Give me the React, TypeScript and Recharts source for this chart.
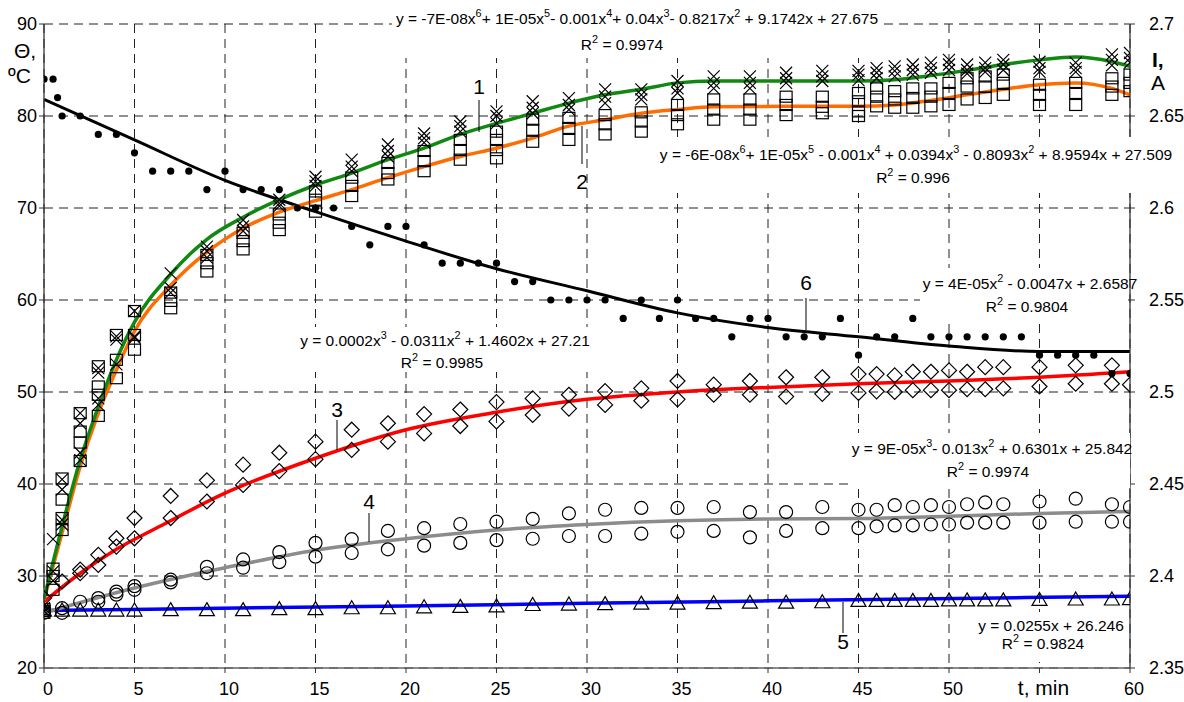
import React from 'react'
import { CartesianGrid, ComposedChart, Line, Scatter, XAxis, YAxis } from 'recharts'

const FONT = '"Liberation Sans", Arial, sans-serif'

// measurement times (min) shared by the marker series
const tObs = [0, 1, 2, 3, 4, 5, 7, 9, 11, 13, 15, 17, 19, 21, 23, 25, 27, 29, 31, 33, 35, 37, 39, 41, 43, 45, 46, 47, 48, 49, 50, 51, 52, 53, 55, 57, 59, 60]

// series 1 (crosses), three readings per time
const crossA = [26.2, 40.5, 47.7, 52.6, 56.05, 58.8, 62.9, 65.8, 68.7, 70.9, 73.4, 75.25, 76.9, 78.1, 79.4, 80.5, 81.6, 81.95, 82.9, 82.9, 83.8, 84.3, 84.3, 84.7, 84.9, 84.9, 85.2, 85.4, 85.6, 85.8, 86.1, 85.6, 85.8, 86.1, 85.9, 85.8, 86.7, 86.85]
const crossB = [26.2, 39.4, 46.6, 52.1, 55.7, 56.05, 61.3, 65.3, 68.0, 70.5, 72.9, 74.5, 76.2, 77.6, 78.9, 80.0, 80.9, 81.2, 82.1, 82.3, 83.0, 83.6, 83.6, 84.1, 84.3, 84.5, 84.7, 84.9, 85.0, 85.2, 85.6, 85.0, 85.2, 85.6, 85.2, 85.2, 86.1, 86.3]
const crossC = [26.5, 36.1, 43.4, 49.3, 53.0, 55.9, 60.8, 64.6, 67.5, 70.2, 72.4, 74.0, 75.6, 77.1, 78.3, 79.2, 80.3, 80.7, 81.4, 81.8, 82.5, 83.0, 83.0, 83.6, 83.8, 83.9, 84.1, 84.3, 84.5, 84.7, 85.0, 84.6, 84.8, 85.0, 84.8, 84.8, 85.5, 85.8]
const crossExtraT = [0.5, 0.5, 0.5, 1, 2, 3]
const crossExtraV = [34.0, 30.5, 29.5, 35.6, 42.6, 48.6]

// series 2 (squares)
const sqA = [26.0, 40.6, 47.7, 52.8, 56.2, 58.8, 60.8, 64.9, 67.3, 69.3, 71.8, 73.3, 74.9, 76.2, 77.4, 78.3, 79.6, 79.8, 80.1, 80.4, 81.2, 81.8, 81.8, 82.1, 82.1, 82.5, 83.0, 82.7, 83.0, 83.0, 83.6, 84.1, 84.3, 84.5, 83.4, 83.6, 84.1, 84.5]
const sqB = [26.2, 38.3, 45.7, 50.6, 53.5, 56.2, 59.9, 64.0, 66.4, 68.4, 70.9, 72.4, 73.8, 75.1, 76.3, 77.4, 78.5, 78.7, 79.1, 79.4, 80.1, 80.7, 80.7, 81.2, 81.0, 81.6, 82.1, 81.8, 81.96, 82.1, 82.5, 83.2, 83.2, 83.6, 82.3, 82.5, 83.2, 83.6]
const sqC = [26.4, 36.3, 44.5, 49.7, 51.5, 54.6, 59.1, 63.1, 65.5, 67.6, 69.6, 71.3, 73.1, 74.0, 75.25, 76.3, 77.2, 77.4, 78.0, 78.3, 79.1, 79.6, 79.6, 80.1, 80.3, 80.5, 81.05, 80.9, 80.9, 81.05, 81.2, 81.8, 81.96, 82.3, 81.2, 81.2, 82.3, 82.7]
const sqExtraT = [0.5, 0.5, 0.5, 1, 2, 3, 25, 45]
const sqExtraV = [30.8, 30.0, 28.5, 35.0, 42.5, 47.4, 75.4, 80.0]

// series 3 (diamonds)
const diaHi = [27.6, 29.4, 30.7, 32.3, 34.1, 36.3, 38.7, 40.4, 42.1, 43.4, 44.6, 45.9, 46.6, 47.6, 48.1, 48.9, 49.3, 49.7, 50.1, 50.4, 51.2, 50.8, 51.2, 51.6, 51.6, 51.95, 51.95, 51.8, 52.2, 52.2, 52.35, 52.2, 52.7, 52.7, 52.7, 52.9, 52.9, null]
const diaLo = [null, null, 30.3, 31.2, 33.2, 34.1, 36.3, 38.1, 39.9, 41.4, 42.7, 43.7, 44.6, 45.5, 46.3, 46.8, 47.5, 48.2, 48.6, 49.05, 49.2, 49.7, 49.7, 49.5, 49.8, 49.9, 50.07, 50.0, 50.2, 50.2, 50.2, 50.3, 50.3, 50.4, 50.6, 50.9, 50.9, 50.8]

// series 4 (circles)
const circHi = [26.0, 26.5, 27.2, 27.6, 28.3, 28.9, 29.6, 31.0, 31.8, 32.6, 33.6, 34.0, 34.9, 35.2, 35.65, 35.9, 36.2, 36.8, 37.2, 37.4, 37.4, 37.5, 36.95, 36.95, 37.5, 37.2, 37.2, 37.7, 37.5, 37.7, 37.5, 37.8, 38.0, 37.8, 38.1, 38.4, 37.8, 37.5]
const circLo = [null, 26.0, null, 27.2, 27.97, 28.5, 29.3, 30.3, 30.9, 31.5, 32.1, 32.5, 32.9, 33.3, 33.6, 33.9, 34.05, 34.35, 34.35, 34.6, 34.8, 34.9, 34.2, 34.9, 35.2, 35.2, 35.4, 35.5, 35.5, 35.6, 35.6, 35.8, 35.8, 35.8, 35.8, 35.9, 35.9, 35.9]

// series 5 (triangles)
const tri = [26.3, 26.3, 26.3, 26.3, 26.3, 26.3, 26.35, 26.35, 26.35, 26.45, 26.45, 26.55, 26.55, 26.65, 26.7, 26.75, 26.9, 26.95, 27.0, 27.05, 27.05, 27.1, 27.15, 27.15, 27.2, 27.35, 27.35, 27.35, 27.35, 27.35, 27.4, 27.4, 27.4, 27.4, 27.45, 27.5, 27.5, 27.55]

// series 6: current I, A (right axis), read every minute
const dotT = [0, 0.5, 0.75, 1, 2, 3, 4, 5, 6, 7, 8, 9, 10, 11, 12, 13, 14, 15, 16, 17, 18, 19, 20, 21, 22, 23, 24, 25, 26, 27, 28, 29, 30, 31, 32, 33, 34, 35, 36, 37, 38, 39, 40, 41, 42, 43, 44, 45, 46, 47, 48, 49, 50, 51, 52, 53, 54, 55, 56, 57, 58, 59, 60]
const dotI = [2.67, 2.67, 2.66, 2.65, 2.65, 2.64, 2.64, 2.63, 2.62, 2.62, 2.62, 2.61, 2.62, 2.61, 2.61, 2.61, 2.6, 2.6, 2.6, 2.59, 2.58, 2.59, 2.59, 2.58, 2.57, 2.57, 2.57, 2.57, 2.56, 2.56, 2.55, 2.55, 2.55, 2.55, 2.54, 2.55, 2.54, 2.55, 2.54, 2.54, 2.53, 2.54, 2.54, 2.53, 2.53, 2.53, 2.54, 2.52, 2.53, 2.53, 2.54, 2.53, 2.53, 2.53, 2.53, 2.53, 2.53, 2.52, 2.52, 2.52, 2.52, 2.51, 2.51]

// trend lines
const fitT12 = [0, 1, 2, 3, 4, 5, 7, 9, 11, 13, 15, 17, 19, 21, 23, 25, 27, 29, 31, 33, 35, 37, 41, 45, 47, 49, 51, 53, 55, 57, 59, 60]
const fit1 = [27.5, 35.4, 42.6, 48.4, 53.5, 57.6, 62.8, 66.6, 69.0, 70.9, 72.5, 73.8, 75.25, 76.5, 78.0, 79.2, 80.3, 81.4, 82.3, 82.9, 83.6, 83.8, 83.8, 83.8, 83.95, 84.4, 84.96, 85.6, 86.1, 86.4, 85.9, 85.4]
const fit2 = [27.4, 34.7, 41.9, 47.7, 52.4, 56.6, 61.6, 65.2, 67.8, 69.55, 70.8, 72.0, 73.3, 74.5, 75.6, 76.5, 77.6, 78.9, 79.6, 80.3, 80.7, 81.0, 81.05, 81.05, 81.2, 81.7, 82.3, 82.9, 83.4, 83.6, 83.0, 82.3]
const fit3T = [0, 2, 4, 6.4, 10, 15, 20, 25, 30, 35, 40, 45, 50, 55, 60]
const fit3 = [27.2, 30.3, 32.9, 35.4, 39.0, 42.8, 45.9, 47.8, 49.2, 50.0, 50.5, 50.9, 51.2, 51.6, 52.2]
const fit4T = [0, 5, 10, 15, 20, 25, 30, 35, 40, 45, 50, 55, 60]
const fit4 = [26.0, 28.7, 30.9, 32.8, 34.05, 35.0, 35.6, 36.0, 36.2, 36.25, 36.5, 36.8, 37.0]
const fit5T = [0, 20, 40, 60]
const fit5 = [26.25, 26.75, 27.3, 27.8]
const fit6T = [0, 5, 10, 15, 20, 25, 30, 35, 40, 45, 50, 55, 60]
const fit6 = [2.659, 2.637, 2.615, 2.598, 2.582, 2.567, 2.555, 2.543, 2.535, 2.53, 2.525, 2.522, 2.522]

const xTicks = [0, 5, 10, 15, 20, 25, 30, 35, 40, 45, 50, 55, 60]
const tempTicks = [20, 30, 40, 50, 60, 70, 80, 90]
const currentTicks = [2.35, 2.4, 2.45, 2.5, 2.55, 2.6, 2.65, 2.7]

const pts = (ts: number[], vs: (number | null)[]) =>
  ts.map((t, i) => ({ t, v: vs[i] })).filter((p) => p.v != null)

const MARK = { stroke: '#000', strokeWidth: 1.2, fill: 'none' }

const Cross = ({ cx, cy }: any) => (
  <path d={`M${cx - 6},${cy - 6}L${cx + 6},${cy + 6}M${cx + 6},${cy - 6}L${cx - 6},${cy + 6}`} {...MARK} />
)
const Square = ({ cx, cy }: any) => <rect x={cx - 6} y={cy - 5.5} width={12} height={11} {...MARK} />
const Diamond = ({ cx, cy }: any) => (
  <path d={`M${cx},${cy - 7.5}L${cx + 7.5},${cy}L${cx},${cy + 7.5}L${cx - 7.5},${cy}Z`} {...MARK} />
)
const Ring = ({ cx, cy }: any) => <circle cx={cx} cy={cy} r={6.5} {...MARK} />
const Triangle = ({ cx, cy }: any) => (
  <path d={`M${cx},${cy - 7}L${cx + 7.5},${cy + 6}L${cx - 7.5},${cy + 6}Z`} {...MARK} />
)
const Dot = ({ cx, cy }: any) => <circle cx={cx} cy={cy} r={3.6} fill="#000" />

function XTick({ x, y, payload }: any) {
  const isUnit = payload.value === 55
  return (
    <text x={x + 4} y={y + 20} textAnchor="middle" fontSize={isUnit ? 21 : 18} fontFamily={FONT} fill="#000">
      {isUnit ? 't, min' : payload.value}
    </text>
  )
}

/** Trendline label: tokens starting with ^ are superscripts. */
function Eq({ x, y, tokens, size = 15.5 }: { x: number; y: number; tokens: string[]; size?: number }) {
  let raised = false
  return (
    <text x={x} y={y} textAnchor="middle" fontSize={size} fontFamily={FONT} fill="#000">
      {tokens.map((tok, i) => {
        if (tok.startsWith('^')) {
          raised = true
          return (
            <tspan key={i} dy={-7} fontSize={size * 0.7}>
              {tok.slice(1)}
            </tspan>
          )
        }
        const dy = raised ? 7 : 0
        raised = false
        return (
          <tspan key={i} dy={dy}>
            {tok}
          </tspan>
        )
      })}
    </text>
  )
}

function Callout({ label, x, y, y1, y2 }: { label: string; x: number; y: number; y1: number; y2: number }) {
  return (
    <g>
      <line x1={x} x2={x} y1={y1} y2={y2} stroke="#000" strokeWidth={1} />
      <text x={x} y={y} textAnchor="middle" fontSize={21} fontFamily={FONT}>
        {label}
      </text>
    </g>
  )
}

function Overlay() {
  return (
    <svg width={1184} height={702} style={{ position: 'absolute', left: 0, top: 0, pointerEvents: 'none' }}>
      <rect x={392} y={4} width={490} height={54} fill="#fff" />
      <rect x={648} y={137} width={536} height={56} fill="#fff" />
      <rect x={920} y={268} width={208} height={50} fill="#fff" />
      <rect x={300} y={327} width={290} height={45} fill="#fff" />
      <rect x={848} y={433} width={282} height={55} fill="#fff" />
      <rect x={975} y={612} width={150} height={50} fill="#fff" />

      <Eq x={637} y={24} tokens={['y = -7E-08x', '^6', '+ 1E-05x', '^5', '- 0.001x', '^4', '+ 0.04x', '^3', '- 0.8217x', '^2', '  + 9.1742x + 27.675']} />
      <Eq x={622} y={50} tokens={['R', '^2', '  = 0.9974']} />
      <Eq x={916} y={160} tokens={['y = -6E-08x', '^6', '+ 1E-05x', '^5', ' - 0.001x', '^4', ' + 0.0394x', '^3', ' - 0.8093x', '^2', '  + 8.9594x + 27.509']} />
      <Eq x={913} y={183} tokens={['R', '^2', '  = 0.996']} />
      <Eq x={1030} y={289} tokens={['y = 4E-05x', '^2', '  - 0.0047x + 2.6587']} />
      <Eq x={1027} y={312} tokens={['R', '^2', '  = 0.9804']} />
      <Eq x={445} y={346} tokens={['y = 0.0002x', '^3', ' - 0.0311x', '^2', '  + 1.4602x + 27.21']} />
      <Eq x={442} y={368} tokens={['R', '^2', '  = 0.9985']} />
      <Eq x={992} y={454} tokens={['y = 9E-05x', '^3', '- 0.013x', '^2', '  + 0.6301x + 25.842']} />
      <Eq x={988} y={477} tokens={['R', '^2', '  = 0.9974']} />
      <Eq x={1051} y={631} tokens={['y = 0.0255x + 26.246']} />
      <Eq x={1043} y={649} tokens={['R', '^2', '  = 0.9824']} />

      <Callout label="1" x={479} y={94} y1={100} y2={132} />
      <Callout label="2" x={582} y={189} y1={126} y2={164} />
      <Callout label="3" x={337} y={417} y1={420} y2={450} />
      <Callout label="4" x={369} y={509} y1={513} y2={542} />
      <Callout label="5" x={843} y={649} y1={602} y2={633} />
      <Callout label="6" x={806} y={290} y1={298} y2={330} />

      <text x={14} y={58} fontSize={21} fontFamily={FONT}>Θ,</text>
      <text x={8} y={83} fontSize={21} fontFamily={FONT}>ºC</text>
      <text x={1152} y={67} fontSize={21} fontWeight="bold" fontFamily={FONT}>I,</text>
      <text x={1151} y={90} fontSize={21} fontFamily={FONT}>A</text>
    </svg>
  )
}

export default function App() {
  return (
    <div style={{ position: 'absolute', left: 0, top: 0, width: 1184, height: 702, background: '#fff', fontFamily: FONT }}>
      <ComposedChart width={1184} height={702} margin={{ top: 24, right: 0, bottom: 0, left: 0 }}>
        <CartesianGrid yAxisId="T" stroke="#222" strokeDasharray="9 6" />
        <XAxis
          type="number"
          dataKey="t"
          domain={[0, 60]}
          ticks={xTicks}
          allowDataOverflow
          height={34}
          tickSize={5}
          axisLine={{ stroke: '#666', strokeWidth: 1.5 }}
          tickLine={{ stroke: '#333' }}
          tick={<XTick />}
        />
        <YAxis
          yAxisId="T"
          type="number"
          domain={[20, 90]}
          ticks={tempTicks}
          allowDataOverflow
          width={44}
          tickSize={5}
          tickMargin={2}
          axisLine={{ stroke: '#333', strokeWidth: 1.3 }}
          tickLine={{ stroke: '#333' }}
          tick={{ fontSize: 18, fill: '#000', fontFamily: FONT }}
        />
        <YAxis
          yAxisId="I"
          orientation="right"
          type="number"
          domain={[2.35, 2.7]}
          ticks={currentTicks}
          allowDataOverflow
          width={54}
          tickSize={5}
          tickMargin={14}
          axisLine={{ stroke: '#333', strokeWidth: 1.3 }}
          tickLine={{ stroke: '#333' }}
          tick={{ fontSize: 18, fill: '#000', fontFamily: FONT }}
        />

        <Scatter yAxisId="T" data={pts(tObs, tri)} dataKey="v" shape={Triangle} isAnimationActive={false} />
        <Scatter yAxisId="T" data={pts(tObs, circHi)} dataKey="v" shape={Ring} isAnimationActive={false} />
        <Scatter yAxisId="T" data={pts(tObs, circLo)} dataKey="v" shape={Ring} isAnimationActive={false} />
        <Scatter yAxisId="T" data={pts(tObs, diaHi)} dataKey="v" shape={Diamond} isAnimationActive={false} />
        <Scatter yAxisId="T" data={pts(tObs, diaLo)} dataKey="v" shape={Diamond} isAnimationActive={false} />
        <Scatter yAxisId="T" data={pts(tObs, sqA)} dataKey="v" shape={Square} isAnimationActive={false} />
        <Scatter yAxisId="T" data={pts(tObs, sqB)} dataKey="v" shape={Square} isAnimationActive={false} />
        <Scatter yAxisId="T" data={pts(tObs, sqC)} dataKey="v" shape={Square} isAnimationActive={false} />
        <Scatter yAxisId="T" data={pts(sqExtraT, sqExtraV)} dataKey="v" shape={Square} isAnimationActive={false} />
        <Scatter yAxisId="T" data={pts(tObs, crossA)} dataKey="v" shape={Cross} isAnimationActive={false} />
        <Scatter yAxisId="T" data={pts(tObs, crossB)} dataKey="v" shape={Cross} isAnimationActive={false} />
        <Scatter yAxisId="T" data={pts(tObs, crossC)} dataKey="v" shape={Cross} isAnimationActive={false} />
        <Scatter yAxisId="T" data={pts(crossExtraT, crossExtraV)} dataKey="v" shape={Cross} isAnimationActive={false} />
        <Scatter yAxisId="I" data={pts(dotT, dotI)} dataKey="v" shape={Dot} isAnimationActive={false} />

        <Line yAxisId="T" data={pts(fit5T, fit5)} dataKey="v" type="monotone" stroke="#0000ff" strokeWidth={3.5} dot={false} isAnimationActive={false} />
        <Line yAxisId="T" data={pts(fit4T, fit4)} dataKey="v" type="monotone" stroke="#8c8c8c" strokeWidth={3.5} dot={false} isAnimationActive={false} />
        <Line yAxisId="T" data={pts(fit3T, fit3)} dataKey="v" type="monotone" stroke="#ff0000" strokeWidth={3.5} dot={false} isAnimationActive={false} />
        <Line yAxisId="I" data={pts(fit6T, fit6)} dataKey="v" type="monotone" stroke="#000" strokeWidth={3} dot={false} isAnimationActive={false} />
        <Line yAxisId="T" data={pts(fitT12, fit2)} dataKey="v" type="monotone" stroke="#ff6d00" strokeWidth={3.5} dot={false} isAnimationActive={false} />
        <Line yAxisId="T" data={pts(fitT12, fit1)} dataKey="v" type="monotone" stroke="#118811" strokeWidth={3.5} dot={false} isAnimationActive={false} />
      </ComposedChart>
      <Overlay />
    </div>
  )
}
